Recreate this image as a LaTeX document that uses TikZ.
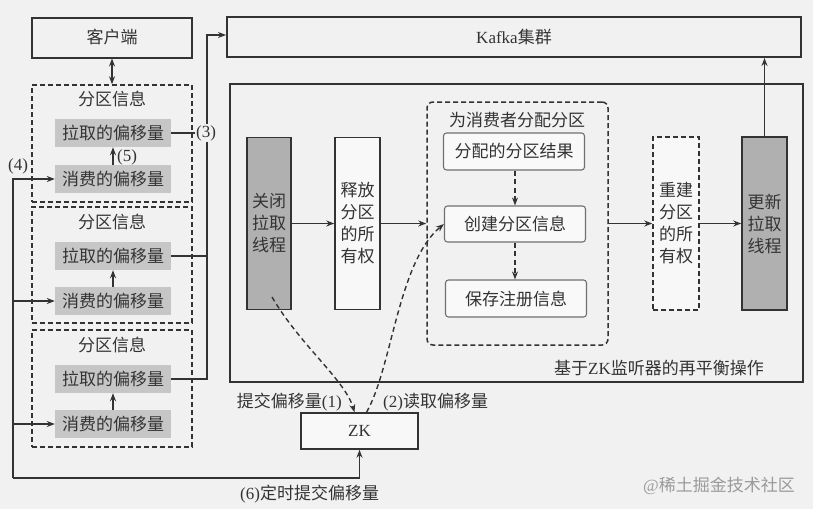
\documentclass[tikz,border=0pt]{standalone}
\usepackage{fontspec}
\setmainfont{Liberation Serif}
\newfontfamily\cjk{Noto Sans CJK SC}
\usetikzlibrary{arrows.meta}
\newcommand\lat[1]{{\rmfamily #1}}
\definecolor{bgc}{HTML}{F1F1F1}
\definecolor{ink}{HTML}{333333}
\definecolor{offs}{HTML}{C6C6C6}
\definecolor{thr}{HTML}{B0B0B0}
\definecolor{wm}{HTML}{9A9A9A}
\begin{document}
\begin{tikzpicture}[x=1pt,y=-1pt,
  font=\cjk\fontsize{17}{22}\selectfont, text=ink,
  >={Stealth[length=8pt,width=6pt]},
  every node/.style={inner sep=0pt},
  thickbox/.style={draw=ink, line width=2pt, fill=bgc},
  plainbox/.style={draw=ink, line width=1.5pt},
  dbox/.style={draw=ink, line width=1.5pt, dash pattern=on 5pt off 3pt},
  offbox/.style={fill=offs, minimum width=116, minimum height=28},
  inbox/.style={draw=ink!70, line width=1.1pt, rounded corners=3pt, fill=white!60!bgc, minimum width=141, minimum height=37},
  ln/.style={draw=ink, line width=1.4pt},
  dsh/.style={draw=ink, line width=1.4pt, dash pattern=on 5pt off 3.5pt},
  vtext/.style={align=center, font=\cjk\fontsize{17}{22}\selectfont}
]
\path[fill=bgc] (0,0) rectangle (813,509);
\useasboundingbox (0,0) rectangle (813,509);

% top boxes
\node[thickbox, minimum width=160, minimum height=40] (client) at (112,37.5) {客户端};
\node[thickbox, minimum width=574, minimum height=40] (kafka) at (514,37) {\lat{Kafka}集群};

% partition boxes
\node[dbox, minimum width=160, minimum height=117] (p1) at (112,143.5) {};
\node[dbox, minimum width=160, minimum height=116] (p2) at (112,265) {};
\node[dbox, minimum width=160, minimum height=117] (p3) at (112,388.5) {};
\node (t1) at (112,99) {分区信息};
\node (t2) at (112,222) {分区信息};
\node (t3) at (112,345) {分区信息};
\node[offbox] (pull1) at (113,133) {拉取的偏移量};
\node[offbox] (pull2) at (113,256) {拉取的偏移量};
\node[offbox] (pull3) at (113,379) {拉取的偏移量};
\node[offbox] (cons1) at (113,179) {消费的偏移量};
\node[offbox] (cons2) at (113,301) {消费的偏移量};
\node[offbox] (cons3) at (113,424) {消费的偏移量};

\draw[ln,<->] (client.south) -- (p1.north);
\draw[ln,->] (cons1.north) -- (pull1.south);
\draw[ln,->] (cons2.north) -- (pull2.south);
\draw[ln,->] (cons3.north) -- (pull3.south);

% rebalance area
\node[plainbox, minimum width=573, minimum height=298] (outer) at (516.5,233) {};
\node (otitle) at (659,368) {基于\lat{ZK}监听器的再平衡操作};
\node[plainbox, fill=thr, minimum width=44, minimum height=172, vtext] (close) at (269,223.5) {关闭\\拉取\\线程};
\node[plainbox, fill=white!50!bgc, minimum width=45, minimum height=172, vtext] (release) at (357.5,223.5) {释放\\分区\\的所\\有权};
\node[dbox, rounded corners=6pt, minimum width=181, minimum height=243] (group) at (517.5,223.5) {};
\node (gtitle) at (517,120) {为消费者分配分区};
\node[inbox] (assign) at (514,151.5) {分配的分区结果};
\node[inbox, minimum height=36] (create) at (515,224) {创建分区信息};
\node[inbox] (save) at (516,298.5) {保存注册信息};
\node[dbox, fill=white!50!bgc, minimum width=46, minimum height=173, vtext] (rebuild) at (676,223.5) {重建\\分区\\的所\\有权};
\node[plainbox, fill=thr, minimum width=45, minimum height=173, vtext] (update) at (764.5,223.5) {更新\\拉取\\线程};

\draw[ln,->] (close.east) -- (release.west);
\draw[ln,->] (release.east) -- (group.west);
\draw[ln,->] (group.east) -- (rebuild.west);
\draw[ln,->] (rebuild.east) -- (update.west);
\draw[ln,->] (update.north) -- (update.north |- kafka.south);
\draw[dsh,->] (assign.south -| create.north) -- (create.north);
\draw[dsh,->] (create.south) -- (create.south |- save.north);

% ZK
\node[plainbox, fill=white!50!bgc, minimum width=117, minimum height=36] (zk) at (359.5,431) {\lat{ZK}};
\coordinate (cs) at (272,297);
\draw[dsh,->] (cs) .. controls (300,345) and (345,380) .. ([xshift=-5pt]zk.north);
\draw[dsh,->] ([xshift=7pt]zk.north) .. controls (392,368) and (398,262) .. (create.west);
\node[anchor=east] (l1) at (342,402) {提交偏移量\lat{(1)}};
\node[anchor=west] (l2) at (383,402) {\lat{(2)}读取偏移量};

% feedback (6) / (4)
\coordinate (fb) at (13,478);
\draw[ln,->] (fb) -| (zk.south);
\draw[ln,->] (fb) |- (cons1.west);
\draw[ln,->] (cons2.west -| fb) -- (cons2.west);
\draw[ln,->] (cons3.west -| fb) -- (cons3.west);
\node[anchor=west] (l6) at (240,494) {\lat{(6)}定时提交偏移量};
\node (l4) at (18,166) {\lat{(4)}};
\node[anchor=west] (l5) at (117,157) {\lat{(5)}};

% feedback (3)
\coordinate (v) at (207,35);
\draw[ln,->] (pull3.east) -| (v) -- (v -| kafka.west);
\draw[ln] (pull2.east) -- (pull2.east -| v);
\draw[ln] (pull1.east) -- (pull1.east -| v);
\node[fill=bgc, inner sep=1pt] (l3) at (206,133) {\lat{(3)}};

% watermark
\node[anchor=west, text=wm] (wmk) at (643,486) {\lat{@}稀土掘金技术社区};
\end{tikzpicture}
\end{document}
